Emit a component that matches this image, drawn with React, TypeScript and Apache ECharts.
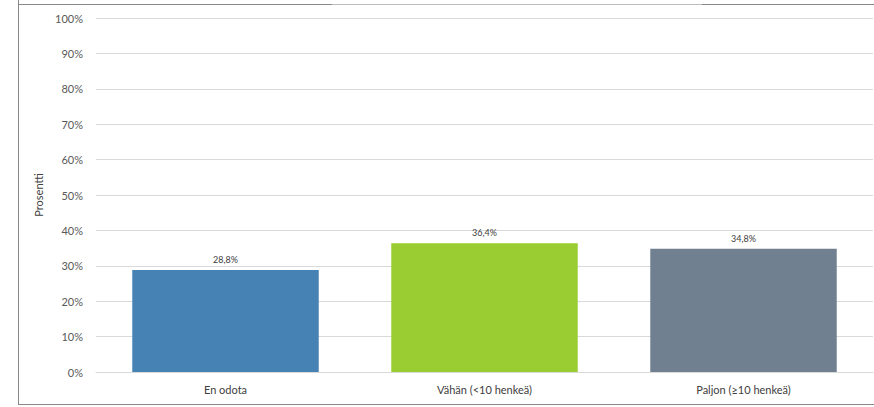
import React, { useEffect, useRef } from "react";
import * as echarts from "echarts";

const categories = ["En odota", "Vähän (<10 henkeä)", "Paljon (≥10 henkeä)"];
const values = [28.8, 36.4, 34.8];
const barColors = ["#4682B4", "#9ACD32", "#708090"];
const yAxisName = "Prosentti";

export default function App() {
  const ref = useRef<HTMLDivElement>(null);
  useEffect(() => {
    document.body.style.margin = "0";
    const chart = echarts.init(ref.current!, null, { renderer: "svg" });
    const font = "Lato, 'Open Sans', sans-serif";
    chart.setOption({
      animation: false,
      backgroundColor: "#ffffff",
      textStyle: { fontFamily: font },
      grid: { left: 96, right: 1, top: 18, bottom: 35, containLabel: false },
      graphic: [
        { type: "line", shape: { x1: 18.5, y1: 0, x2: 18.5, y2: 404.5 }, style: { stroke: "#888888", lineWidth: 1 } },
        { type: "line", shape: { x1: 18, y1: 404.5, x2: 874, y2: 404.5 }, style: { stroke: "#888888", lineWidth: 1 } },
        { type: "line", shape: { x1: 18, y1: 4.5, x2: 332, y2: 4.5 }, style: { stroke: "#888888", lineWidth: 1 } },
        { type: "line", shape: { x1: 332, y1: 4.5, x2: 702, y2: 4.5 }, style: { stroke: "#bdbdbd", lineWidth: 1 } },
        { type: "line", shape: { x1: 702, y1: 4.5, x2: 874, y2: 4.5 }, style: { stroke: "#888888", lineWidth: 1 } },
      ],
      xAxis: {
        type: "category",
        data: categories,
        axisLine: { show: true, lineStyle: { color: "#d9d9d9", width: 1 } },
        axisTick: { show: false },
        axisLabel: { color: "#404040", fontSize: 11, margin: 12, fontFamily: font },
      },
      yAxis: {
        type: "value",
        min: 0,
        max: 100,
        interval: 10,
        name: yAxisName,
        nameLocation: "middle",
        nameGap: 43,
        nameRotate: 90,
        nameTextStyle: { color: "#404040", fontSize: 11, fontFamily: font },
        axisLine: { show: false },
        axisTick: { show: false },
        axisLabel: { color: "#595959", fontSize: 11, margin: 13, formatter: "{value}%", fontFamily: font },
        splitLine: { lineStyle: { color: "#d9d9d9", width: 1 } },
      },
      series: [
        {
          type: "bar",
          data: values.map((v, i) => ({ value: v, itemStyle: { color: barColors[i] } })),
          barWidth: "72%",
          label: {
            show: true,
            position: "top",
            distance: 6,
            color: "#404040",
            fontSize: 9,
            fontFamily: font,
            formatter: (p: any) => p.value.toFixed(1).replace(".", ",") + "%",
          },
        },
      ],
    });
    return () => chart.dispose();
  }, []);
  return <div ref={ref} style={{ position: "fixed", left: 0, top: 0, width: 874, height: 407 }} />;
}
